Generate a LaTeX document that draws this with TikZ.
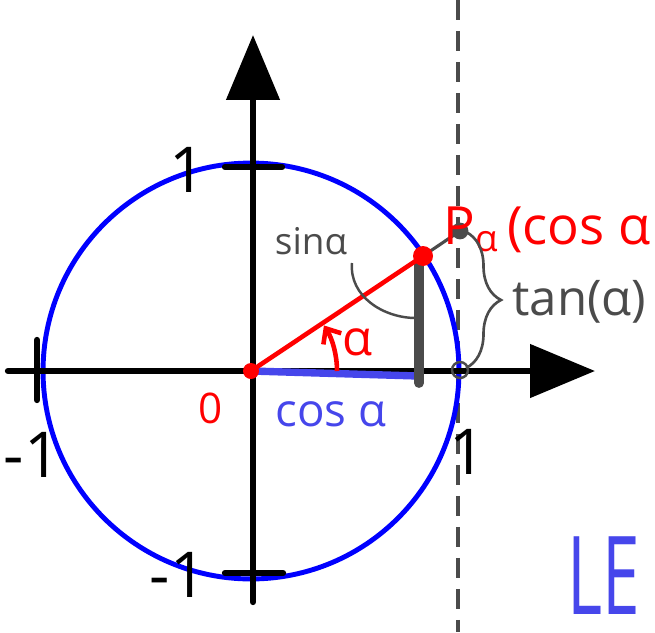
\documentclass[tikz,border=0pt]{standalone}
\usepackage{fontspec}
\setmainfont{Open Sans}
\usetikzlibrary{positioning, arrows.meta, decorations.pathreplacing}
\definecolor{penblue}{RGB}{0,0,255}
\definecolor{penred}{RGB}{255,0,0}
\definecolor{pengray}{RGB}{75,75,75}
\definecolor{softblue}{RGB}{70,70,235}

\begin{document}
\begin{tikzpicture}[x=0.02cm, y=-0.02cm,
    axis/.style={line width=3.6pt, line cap=round, -{Triangle[length=1.3cm, width=1.05cm]}},
    ticmark/.style={line width=3.6pt, line cap=round},
    numtext/.style={inner sep=0pt, font=\fontsize{36}{36}\selectfont},
    handtext/.style={inner sep=0pt, font=\fontsize{#1}{#1}\selectfont},
    pdot/.style={circle, fill=#1, inner sep=0pt, minimum size=0.4cm}
]
\clip (0,0) rectangle (655,632);

% points
\coordinate (O) at (251,371);
\coordinate (P) at (423,256);
\coordinate (T) at (460,231);
\coordinate (Tx) at (460,370);
\coordinate (xl) at (8,371);
\coordinate (xr) at (595,371);
\coordinate (yb) at (253,602);
\coordinate (yt) at (253,35);

% tangent line
\draw[pengray, line width=2pt, dash pattern=on 0.4cm off 0.22cm] (458,0) -- (458,632);

% circle and axes
\draw[penblue, line width=2.8pt] (O) circle[radius=4.16cm];
\draw[axis] (xl) -- (xr);
\draw[axis] (yb) -- (yt);
\draw[ticmark] (225,167) -- (282,167);
\draw[ticmark] (225,573) -- (283,573);
\draw[ticmark] (37,340) -- (37,400);

\node[numtext] (one top) at (188,170) {1};
\node[numtext] (mone bottom) at (178,575) {-1};
\node[numtext] (mone left) at (32,455) {-1};
\node[numtext] (one right) at (468,452) {1};

% cos and sin
\coordinate (C) at (418,376);
\draw[softblue, line width=4.2pt, line cap=round] (O) -- (C);
\draw[pengray, line width=5.6pt, line cap=round] (419,263) -- (419,383);

% radius and angle
\draw[penred, line width=2.6pt] (O) -- (P);
\coordinate (A0) at (337,371);
\draw[penred, line width=2.6pt, -{Straight Barb[length=7pt, width=12pt]}] (A0) arc[start angle=0, end angle=32, radius=1.72cm];
\node[handtext=28, text=penred] (alpha) at (358,342) {α};

\draw[pengray, line width=1.8pt] (P) -- (T);
\node[pdot=penred] (Pdot) at (P) {};
\node[pdot=penred, minimum size=0.32cm] (Odot) at (O) {};
\node[circle, draw=black!70, fill=pengray, line width=1pt, inner sep=0pt, minimum size=0.3cm] (Tdot) at (T) {};
\node[circle, draw=pengray, line width=1.4pt, inner sep=0pt, minimum size=0.32cm] (Txdot) at (Tx) {};

% labels
\node[handtext=24, text=penred] (zero) at (211,408) {0};
\node[handtext=26, text=softblue] (cos) at (331,414) {cos α};
\node[handtext=21, text=pengray] (sin) at (311,241) {sinα};
\coordinate (L1) at (352,263);
\coordinate (L2) at (416,318);
\draw[pengray, line width=1.4pt] (L1) to[out=-95, in=180] (L2);

\node[handtext=30, text=penred, anchor=west] (Plabel) at (443,230) {P\textsubscript{α}\,(cos α};

\draw[pengray, line width=1.5pt, decorate, decoration={brace, amplitude=0.7cm}] (466,232) -- (466,368);
\node[handtext=28, text=pengray, anchor=west] (tan) at (512,302) {tan(α)};

\node[handtext=62, text=softblue, xscale=0.62] (LE) at (604,576) {LE};
\end{tikzpicture}
\end{document}
